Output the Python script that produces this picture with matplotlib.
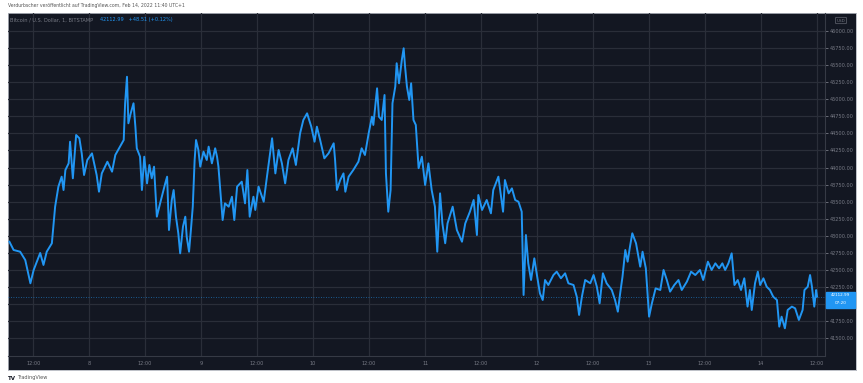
import matplotlib.pyplot as plt
from matplotlib.patches import Rectangle

# hours since 2022-02-08 00:00 (UTC+1)
hours = [-17.1, -16.2, -14.8, -13.7, -12.6, -11.9, -10.5, -9.8, -9.1, -8.0,
         -7.3, -6.6, -5.9, -5.5, -5.1, -4.4, -4.1, -3.5, -2.8, -2.1,
         -1.6, -1.1, -0.4, 0.6, 1.6, 2.1, 2.7, 3.9, 4.9, 5.6,
         6.6, 7.4, 7.7, 8.1, 8.4, 8.9, 9.5, 9.9, 10.2, 10.9,
         11.3, 11.8, 12.4, 12.9, 13.4, 13.9, 14.5, 15.2, 16.3, 16.7,
         17.1, 17.7, 18.1, 18.6, 19.1, 19.5, 20.1, 20.6, 20.9, 21.4,
         21.8, 22.2, 22.6, 22.9, 23.4, 23.8, 24.5, 25.2, 25.6, 26.3,
         27.0, 27.4, 27.7, 28.1, 28.6, 29.1, 29.9, 30.6, 31.1, 31.7,
         32.7, 33.4, 33.9, 34.4, 35.2, 35.6, 36.3, 37.4, 38.1, 39.2,
         39.9, 40.6, 41.3, 42.0, 42.7, 43.6, 44.3, 45.2, 45.9, 46.7,
         47.6, 48.3, 48.8, 49.5, 50.4, 51.3, 52.4, 52.7, 53.1, 53.8,
         54.5, 54.9, 55.6, 56.6, 57.7, 58.4, 59.1, 59.9, 60.6, 60.9,
         61.7, 62.1, 62.7, 63.3, 63.6, 64.1, 64.6, 65.0, 65.6, 65.9,
         66.4, 67.0, 67.4, 67.7, 68.1, 68.6, 69.0, 69.5, 70.0, 70.6,
         71.3, 72.0, 72.7, 73.4, 74.1, 74.6, 75.2, 75.7, 76.3, 76.8,
         77.9, 78.8, 79.9, 80.6, 81.6, 82.4, 83.1, 83.4, 84.2, 85.2,
         86.1, 86.6, 87.7, 88.7, 89.1, 89.9, 90.6, 91.3, 92.0, 92.7,
         93.1, 93.6, 94.1, 94.7, 95.4, 95.9, 96.6, 97.2, 97.7, 98.4,
         99.5, 100.2, 101.1, 102.0, 102.7, 103.8, 104.5, 105.0, 105.6, 106.3,
         107.4, 108.1, 108.8, 109.4, 110.1, 110.9, 112.0, 112.7, 113.3, 113.8,
         114.3, 114.9, 115.4, 115.9, 116.4, 117.2, 118.1, 118.6, 119.3, 120.0,
         120.6, 121.4, 122.4, 123.1, 123.8, 124.5, 125.4, 126.3, 127.0, 128.1,
         129.0, 129.9, 130.9, 131.6, 132.6, 133.4, 134.2, 135.0, 135.7, 136.3,
         137.0, 137.7, 138.3, 139.0, 139.7, 140.4, 141.1, 141.6, 142.0, 142.7,
         143.3, 143.8, 144.5, 145.2, 145.9, 146.6, 147.4, 147.9, 148.4, 149.1,
         149.7, 150.6, 151.3, 152.1, 152.9, 153.3, 154.0, 154.5, 154.9, 155.4,
         155.8, 156.0]

price = [42915, 42794, 42769, 42647, 42307, 42502, 42750, 42575, 42769, 42892,
         43427, 43720, 43866, 43671, 43963, 44061, 44377, 43842, 44475, 44427,
         44207, 43890, 44110, 44207, 43890, 43646, 43914, 44085, 43939, 44183,
         44305, 44402, 44939, 45327, 44646, 44792, 44939, 44597, 44281, 44158,
         43671, 44158, 43768, 44037, 43842, 44012, 43281, 43476, 43768, 43866,
         43086, 43525, 43671, 43281, 43038, 42745, 43135, 43281, 42988, 42769,
         43086, 43427, 44110, 44402, 44256, 44012, 44232, 44110, 44305, 44061,
         44281, 44158, 44012, 43671, 43232, 43476, 43427, 43573, 43232, 43720,
         43793, 43476, 43963, 43281, 43573, 43379, 43720, 43500, 43866, 44427,
         43914, 44256, 44061, 43768, 44110, 44281, 44037, 44500, 44695, 44792,
         44597, 44377, 44597, 44402, 44134, 44207, 44354, 44110, 43671, 43817,
         43914, 43646, 43866, 43963, 44085, 44281, 44183, 44500, 44743, 44622,
         45158, 44743, 44695, 45060, 43914, 43354, 43671, 44939, 45183, 45524,
         45231, 45572, 45743, 45474, 45183, 44987, 45231, 44695, 44622, 43990,
         44158, 43744, 44061, 43671, 43427, 42769, 43622, 43183, 42892, 43183,
         43427, 43086, 42915, 43183, 43354, 43525, 43013, 43598, 43379, 43525,
         43330, 43671, 43866, 43354, 43817, 43622, 43695, 43525, 43500, 43354,
         42136, 43013, 42599, 42355, 42672, 42453, 42160, 42063, 42355, 42282,
         42428, 42477, 42380, 42453, 42307, 42282, 42111, 41844, 42111, 42355,
         42307, 42428, 42257, 42014, 42453, 42307, 42209, 42063, 41892, 42160,
         42404, 42794, 42623, 42842, 43038, 42892, 42550, 42769, 42526, 41819,
         42014, 42233, 42209, 42502, 42355, 42185, 42282, 42355, 42209, 42331,
         42477, 42428, 42502, 42355, 42623, 42502, 42599, 42526, 42599, 42502,
         42599, 42745, 42282, 42355, 42209, 42380, 41966, 42209, 41917, 42307,
         42477, 42282, 42380, 42257, 42209, 42111, 42063, 41673, 41819, 41649,
         41917, 41966, 41941, 41771, 41917, 42209, 42257, 42428, 42257, 41966,
         42209, 42112.99]

last_price = 42112.99
price_ticks = [41500 + 250 * i for i in range(19)]
time_ticks = [-12, 0, 12, 24, 36, 48, 60, 72, 84, 96, 108, 120, 132, 144, 156]
time_labels = ['12:00', '8', '12:00', '9', '12:00', '10', '12:00', '11',
               '12:00', '12', '12:00', '13', '12:00', '14', '12:00']

BG = '#131722'
GRID = '#2a2e39'
TXT = '#787b86'
BLUE = '#2196f3'

W, H = 863, 383
fig = plt.figure(figsize=(W / 100, H / 100), dpi=100)

# whole chart panel (plot + axes strips)
bg = fig.add_axes([8 / W, 1 - 370 / H, 848 / W, 357 / H])
bg.set_facecolor(BG)
bg.set_xticks([])
bg.set_yticks([])
for s in bg.spines.values():
    s.set_color('#b2b5be')
    s.set_linewidth(0.6)

ax = fig.add_axes([8 / W, 1 - 356 / H, 817 / W, 343 / H])
ax.set_facecolor('none')
ax.plot(hours, price, color=BLUE, lw=1.4, solid_joinstyle='round')
ax.axhline(last_price, color=BLUE, lw=0.6, ls=(0, (1, 2)), alpha=0.7)

ax.set_xlim(-17.4, 157.7)
ax.set_ylim(41244, 46259)
ax.set_yticks(price_ticks)
# the 42000 label sits under the current-price tag
ax.set_yticklabels(['' if p == 42000 else f'{p:.2f}' for p in price_ticks])
ax.set_xticks(time_ticks)
ax.set_xticklabels(time_labels)
ax.yaxis.tick_right()
ax.grid(True, color=GRID, lw=0.9)
ax.set_axisbelow(True)
ax.tick_params(axis='y', labelsize=3.6, colors=TXT, length=2, pad=1.5, width=0.6)
ax.tick_params(axis='x', labelsize=3.6, colors=TXT, length=0, pad=3.5)
for side in ['top', 'left']:
    ax.spines[side].set_visible(False)
for side in ['right', 'bottom']:
    ax.spines[side].set_color('#363a45')
    ax.spines[side].set_linewidth(0.8)

# current price tag on the price scale
fig.patches.append(Rectangle((826 / W, 1 - 307.5 / H), 29 / W, 16 / H,
                             transform=fig.transFigure, color=BLUE, zorder=5))
fig.text(840.5 / W, 1 - 295.5 / H, '42112.99', color='white', fontsize=3.0,
         ha='center', va='center', zorder=6)
fig.text(840.5 / W, 1 - 303.5 / H, '07:20', color='white', fontsize=3.0,
         ha='center', va='center', zorder=6)
fig.text(841 / W, 1 - 20.5 / H, 'USD', color=TXT, fontsize=3, ha='center',
         va='center', bbox=dict(boxstyle='round,pad=0.3', fc=BG, ec=TXT, lw=0.4))

# legend line
fig.text(10 / W, 1 - 20 / H, 'Bitcoin / U.S. Dollar, 1, BITSTAMP', color=TXT,
         fontsize=3.6, va='center')
fig.text(100 / W, 1 - 20 / H, '42112.99   +48.51 (+0.12%)', color=BLUE,
         fontsize=3.6, va='center')

# header and footer
fig.text(8 / W, 1 - 6 / H,
         'Verdurbscher veröffentlicht auf TradingView.com, Feb 14, 2022 11:40 UTC+1',
         color='#555555', fontsize=3.3, va='center')
fig.text(8 / W, 1 - 378 / H, 'TV', color=BG, fontsize=4, fontweight='bold',
         va='center')
fig.text(17 / W, 1 - 378 / H, 'TradingView', color='#555555', fontsize=3.6,
         va='center')

fig.savefig('out.png', dpi=100, facecolor='white')
